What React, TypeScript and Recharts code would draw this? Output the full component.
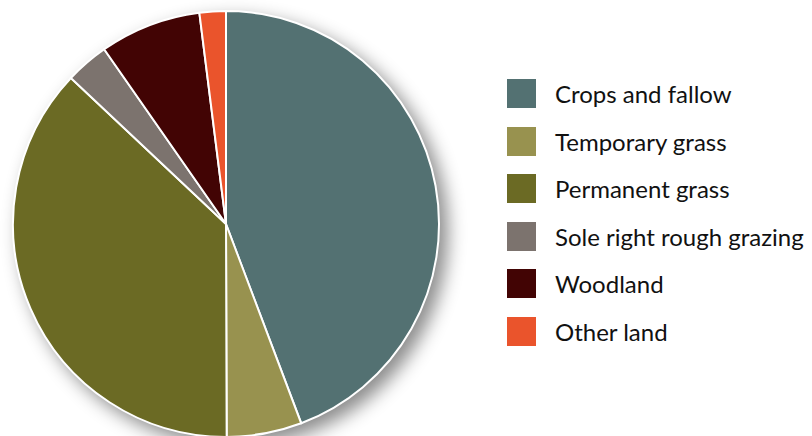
import { PieChart, Pie, Cell, Legend } from "recharts";

const categories = [
  "Crops and fallow",
  "Temporary grass",
  "Permanent grass",
  "Sole right rough grazing",
  "Woodland",
  "Other land",
];
const shares = [44.3, 5.7, 37.1, 3.3, 7.7, 2.0];
const colors = ["#537172", "#98924f", "#6b6a24", "#7c736e", "#420404", "#ea542c"];

const data = categories.map((name, i) => ({ name, value: shares[i] }));

const renderLegend = () => (
  <div style={{ fontFamily: "Lato, 'Open Sans', sans-serif", fontSize: 24, color: "#111" }}>
    {categories.map((name, i) => (
      <div
        key={name}
        style={{ display: "flex", alignItems: "center", height: 29, marginBottom: i < 5 ? 18.5 : 0 }}
      >
        <span style={{ width: 29, height: 29, background: colors[i], display: "inline-block" }} />
        <span style={{ marginLeft: 19, whiteSpace: "nowrap" }}>{name}</span>
      </div>
    ))}
  </div>
);

export default function App() {
  return (
    <div style={{ position: "absolute", left: 0, top: 0, width: 812, height: 436, background: "#fff", overflow: "hidden" }}>
      <style>{`.recharts-pie { filter: drop-shadow(8px 8px 9px rgba(0,0,0,0.45)); }`}</style>
      <PieChart width={812} height={436} margin={{ top: 0, right: 0, bottom: 0, left: 0 }}>
        <Pie
          data={data}
          dataKey="value"
          nameKey="name"
          cx={226}
          cy={224}
          outerRadius={213}
          startAngle={90}
          endAngle={-270}
          stroke="#fff"
          strokeWidth={2}
          isAnimationActive={false}
        >
          {data.map((d, i) => (
            <Cell key={d.name} fill={colors[i]} />
          ))}
        </Pie>
        <Legend
          content={renderLegend}
          layout="vertical"
          verticalAlign="top"
          align="right"
          wrapperStyle={{ left: 507, right: "auto", top: 79, width: 305 }}
        />
      </PieChart>
    </div>
  );
}
